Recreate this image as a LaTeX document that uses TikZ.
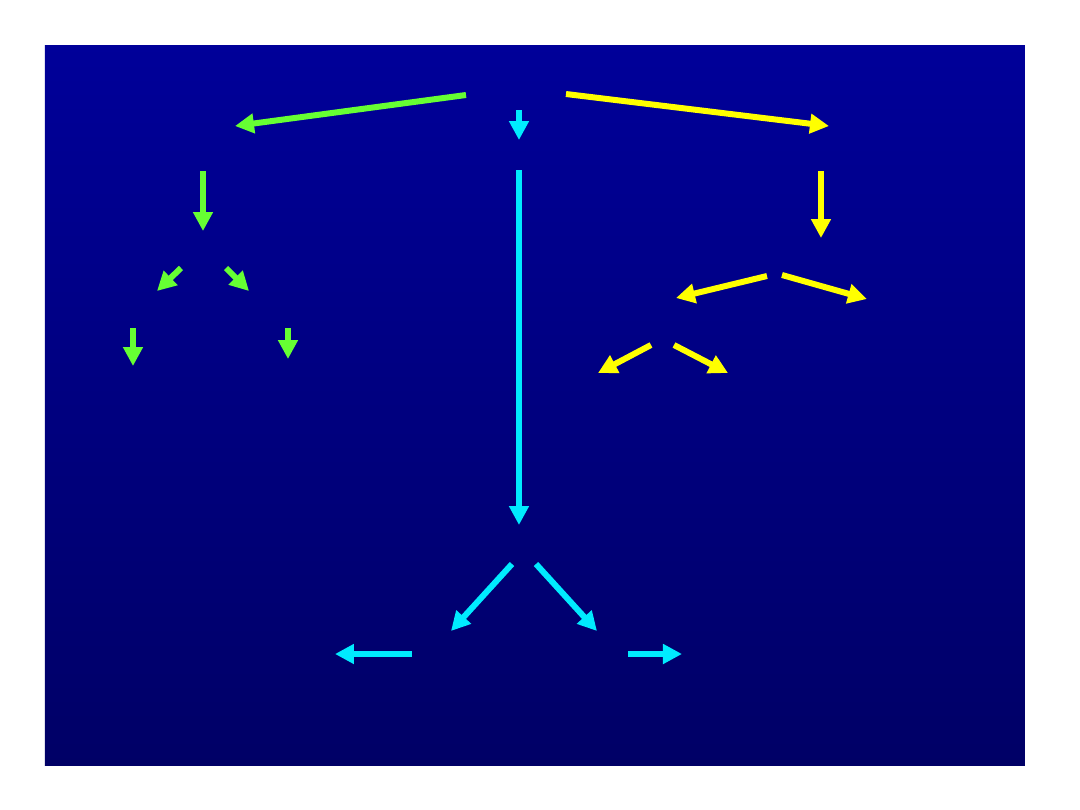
\documentclass[tikz,border=0pt]{standalone}
\usetikzlibrary{arrows.meta}
\definecolor{slidetop}{RGB}{0,0,153}
\definecolor{slidebottom}{RGB}{0,0,102}
\definecolor{arrgreen}{RGB}{102,255,51}
\definecolor{arrcyan}{RGB}{0,235,255}
\definecolor{arryellow}{RGB}{255,255,0}
\tikzset{
	flow/.style={line width=0.6mm, -{Triangle[length=1.9mm, width=1.9mm]}},
}
\begin{document}
\begin{tikzpicture}[x=0.1mm, y=-0.1mm]
	\useasboundingbox (0,0) rectangle (1080,810);
	\shade[top color=slidetop, bottom color=slidebottom] (45,45) rectangle (1025,765);
	% green branch
	\coordinate (g0) at (466,95);
	\coordinate (g1) at (235,126);
	\draw[flow, arrgreen] (g0) -- (g1);
	\coordinate (g2) at (203,171);
	\coordinate (g3) at (203,231);
	\draw[flow, arrgreen] (g2) -- (g3);
	\coordinate (g4) at (181,268);
	\coordinate (g5) at (157,291);
	\draw[flow, arrgreen] (g4) -- (g5);
	\coordinate (g6) at (226,268);
	\coordinate (g7) at (249,291);
	\draw[flow, arrgreen] (g6) -- (g7);
	\coordinate (g8) at (133,328);
	\coordinate (g9) at (133,366);
	\draw[flow, arrgreen] (g8) -- (g9);
	\coordinate (g10) at (288,328);
	\coordinate (g11) at (288,359);
	\draw[flow, arrgreen] (g10) -- (g11);
	% cyan branch
	\coordinate (c0) at (519,110);
	\coordinate (c1) at (519,140);
	\draw[flow, arrcyan] (c0) -- (c1);
	\coordinate (c2) at (519,170);
	\coordinate (c3) at (519,525);
	\draw[flow, arrcyan] (c2) -- (c3);
	\coordinate (c4) at (512,564);
	\coordinate (c5) at (451,631);
	\draw[flow, arrcyan] (c4) -- (c5);
	\coordinate (c6) at (536,564);
	\coordinate (c7) at (597,631);
	\draw[flow, arrcyan] (c6) -- (c7);
	\coordinate (c8) at (412,654);
	\coordinate (c9) at (335,654);
	\draw[flow, arrcyan] (c8) -- (c9);
	\coordinate (c10) at (628,654);
	\coordinate (c11) at (682,654);
	\draw[flow, arrcyan] (c10) -- (c11);
	% yellow branch
	\coordinate (y0) at (566,94);
	\coordinate (y1) at (829,126);
	\draw[flow, arryellow] (y0) -- (y1);
	\coordinate (y2) at (821,171);
	\coordinate (y3) at (821,238);
	\draw[flow, arryellow] (y2) -- (y3);
	\coordinate (y4) at (767,276);
	\coordinate (y5) at (676,298);
	\draw[flow, arryellow] (y4) -- (y5);
	\coordinate (y6) at (782,275);
	\coordinate (y7) at (867,299);
	\draw[flow, arryellow] (y6) -- (y7);
	\coordinate (y8) at (651,345);
	\coordinate (y9) at (598,373);
	\draw[flow, arryellow] (y8) -- (y9);
	\coordinate (y10) at (674,345);
	\coordinate (y11) at (728,373);
	\draw[flow, arryellow] (y10) -- (y11);
\end{tikzpicture}
\end{document}
